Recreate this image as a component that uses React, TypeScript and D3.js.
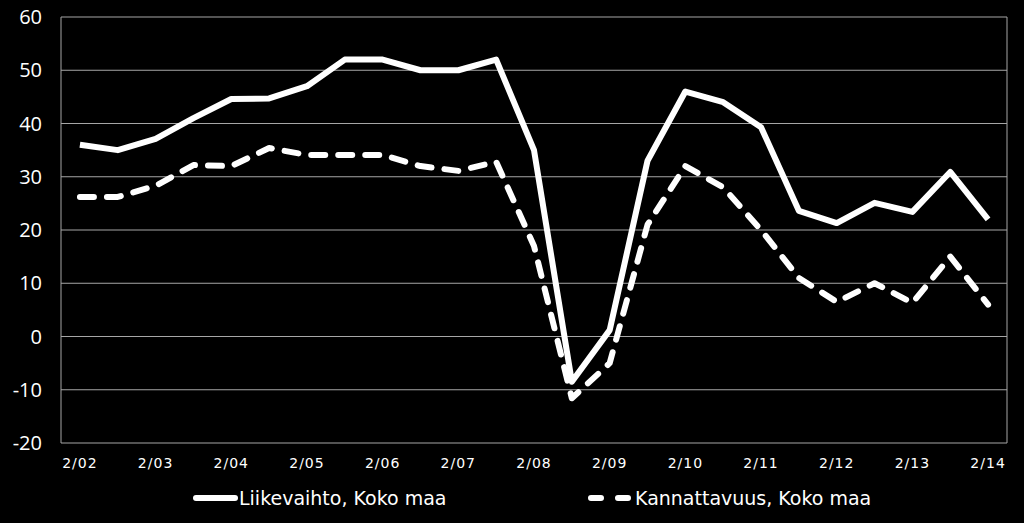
import * as d3 from "d3";

const periods = [
  "2/02", "8/02", "2/03", "8/03", "2/04", "8/04", "2/05", "8/05", "2/06", "8/06",
  "2/07", "8/07", "2/08", "8/08", "2/09", "8/09", "2/10", "8/10", "2/11", "8/11",
  "2/12", "8/12", "2/13", "8/13", "2/14"
];

const liikevaihto = [
  36, 35, 37.1, 41, 44.6, 44.7, 47, 52, 52, 50,
  50, 52, 35, -8.5, 1.2, 33, 46, 44, 39.3, 23.6,
  21.3, 25.1, 23.4, 30.9, 22
];

const kannattavuus = [
  26.2, 26.2, 28.3, 32.2, 32, 35.4, 34.1, 34.1, 34.1, 32,
  31.1, 32.8, 17, -11.6, -5, 21, 32, 28, 20, 11,
  6.5, 10, 6.3, 15, 6
];

const yTicks = [-20, -10, 0, 10, 20, 30, 40, 50, 60];

const seriesNames = ["Liikevaihto, Koko maa", "Kannattavuus, Koko maa"];

const width = 1024;
const height = 523;
const margin = { top: 17, right: 17, bottom: 80, left: 61 };

export default function App() {
  const x = d3.scaleBand<string>()
    .domain(periods)
    .range([margin.left, width - margin.right]);

  const y = d3.scaleLinear()
    .domain([-20, 60])
    .range([height - margin.bottom, margin.top]);

  const cx = (i: number) => (x(periods[i]) as number) + x.bandwidth() / 2;

  const line = d3.line<number>()
    .x((_, i) => cx(i))
    .y(d => y(d));

  const dash = "14 13";

  return (
    <svg
      width={width}
      height={height}
      style={{ position: "absolute", left: 0, top: 0, background: "#000" }}
    >
      <rect x={0} y={0} width={width} height={height} fill="#000" />

      {/* gridlines */}
      {yTicks.map(t => (
        <line
          key={t}
          x1={margin.left}
          x2={width - margin.right}
          y1={y(t)}
          y2={y(t)}
          stroke="#a6a6a6"
          strokeWidth={1}
        />
      ))}
      <line x1={margin.left} x2={margin.left} y1={margin.top} y2={y(-20)} stroke="#a6a6a6" />
      <line x1={width - margin.right} x2={width - margin.right} y1={margin.top} y2={y(-20)} stroke="#a6a6a6" />

      {/* y labels */}
      {yTicks.map(t => (
        <text
          key={t}
          x={42}
          y={y(t)}
          dy="0.35em"
          textAnchor="end"
          fill="#fff"
          fontSize={20}
          fontFamily="'Open Sans', sans-serif"
        >
          {t}
        </text>
      ))}

      {/* x labels */}
      {periods.map((p, i) => i % 2 === 0 ? (
        <text
          key={p}
          x={cx(i)}
          y={468}
          textAnchor="middle"
          fill="#fff"
          fontSize={14}
          letterSpacing={1}
          fontFamily="'DejaVu Sans', sans-serif"
        >
          {p}
        </text>
      ) : null)}

      {/* lines */}
      <path
        d={line(kannattavuus) || ""}
        fill="none"
        stroke="#fff"
        strokeWidth={6}
        strokeDasharray={dash}
        strokeLinecap="round"
        strokeLinejoin="round"
      />
      <path
        d={line(liikevaihto) || ""}
        fill="none"
        stroke="#fff"
        strokeWidth={6}
        strokeLinejoin="round"
      />

      {/* legend */}
      <line x1={196} x2={235} y1={498} y2={498} stroke="#fff" strokeWidth={6} strokeLinecap="round" />
      <text x={239} y={505} fill="#fff" fontSize={19} fontFamily="'DejaVu Sans', sans-serif">
        {seriesNames[0]}
      </text>
      <line x1={591} x2={631} y1={498} y2={498} stroke="#fff" strokeWidth={6} strokeDasharray="10 17" strokeLinecap="round" />
      <text x={635} y={505} fill="#fff" fontSize={19} fontFamily="'DejaVu Sans', sans-serif">
        {seriesNames[1]}
      </text>
    </svg>
  );
}
